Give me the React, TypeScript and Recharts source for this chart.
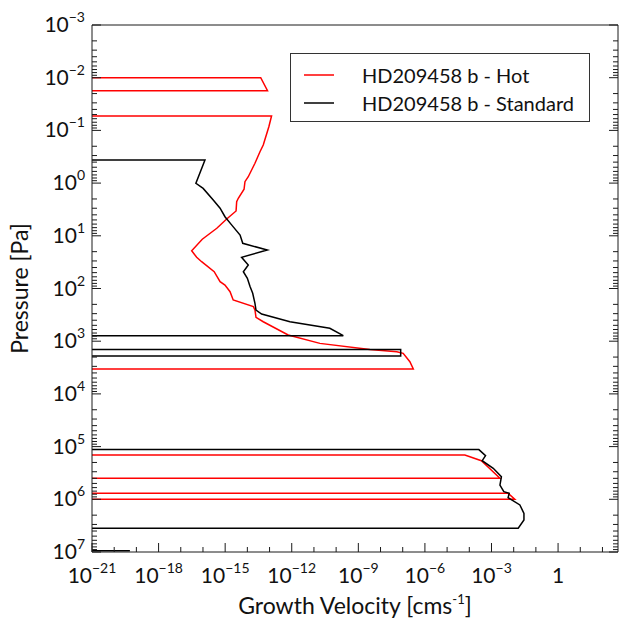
import { LineChart, Line, XAxis, YAxis, Label } from "recharts";

const FONT = "Lato, 'Open Sans', sans-serif";
const AXIS = "#1a1a1a";

// axis ranges (log10)
const X_MIN = 1e-21;
const X_MAX = 10 ** 2.7;
const Y_MIN = 1e-3;
const Y_MAX = 1e7;

// pressure [Pa] and growth velocity [cm/s]; null = negative / off the left of the plot
const hotPressure = [
  6e-3, 1.0e-2, 1.77e-2, 3e-2, 5.33e-2, 8.5e-2, 0.189, 0.254, 0.42, 0.757, 0.94, 1.31,
  1.94, 2.25, 3.38, 4.8, 7.2, 11.6, 19.2, 25.6, 31, 48, 74, 86, 115, 165, 221, 256, 352,
  427, 762, 1.1e3, 1.43e3, 1.58e3, 1.7e3, 2.45e3, 3.37e3, 5e4, 1.44e5, 1.85e5, 4.0e5,
  6e5, 7.7e5, 1.0e6, 3e6,
];
const hotVelocity = [
  null, 4.0e-14, 8.1e-14, null, 1.23e-13, 9.3e-14, 5.2e-14, 3.7e-14, 2.2e-14, 1.1e-14,
  7.8e-15, 7.1e-15, 3.9e-15, 3.3e-15, 3.1e-15, 1.17e-15, 4.2e-16, 9.3e-17, 3.1e-17, 5.2e-17,
  8.7e-17, 3.2e-16, 5.9e-16, 9.8e-16, 1.66e-15, 2.3e-15, 1.86e-14, 2.2e-14, 2.45e-14,
  5.2e-14, 6.9e-13, 1.86e-11, 3.3e-9, 5.4e-8, 1.05e-7, 2.1e-7, 3.0e-7, null, 6.3e-5,
  3.5e-4, 2.4e-3, null, 5.6e-3, 1.12e-2, null,
];

const stdPressure = [
  0.2, 0.365, 1.01, 1.26, 2.09, 3.0, 4.35, 6.2, 9.7, 13.9, 18.6, 25.6, 35.8, 48, 64, 92,
  123, 191, 256, 305, 427, 569, 787, 1.1e3, 1.43e3, 1.91e3, 1e4, 1.14e5, 1.48e5, 1.85e5,
  2.58e5, 3.72e5, 5.36e5, 7.18e5, 7.69e5, 9.3e5, 1.28e6, 1.85e6, 2.47e6, 3.55e6, 6e6,
  9.5e6,
];
const stdVelocity = [
  null, 1.23e-16, 4.8e-17, 1.02e-16, 2.9e-16, 5.9e-16, 9.8e-16, 1.95e-15, 4.7e-15,
  6.2e-15, 7.9e-14, 5.5e-15, 1.1e-14, 6.6e-15, 1.0e-14, 1.32e-14, 1.74e-14, 2.2e-14,
  2.45e-14, 4.4e-14, 8.3e-13, 5.2e-11, 2.1e-10, null, 8.1e-8, 8.1e-8, null, 2.7e-4,
  5.4e-4, 3.8e-4, 1.2e-3, 2.8e-3, 2.4e-3, 3.6e-3, 6.3e-3, 5.6e-3, 1.9e-2, 2.9e-2,
  2.9e-2, 1.6e-2, null, 5.1e-20,
];

const xTickExponents = [-21, -20, -19, -18, -17, -16, -15, -14, -13, -12, -11, -10, -9, -8, -7, -6, -5, -4, -3, -2, -1, 0, 1, 2];
const xLabelExponents = [-21, -18, -15, -12, -9, -6, -3, 0];
const yTickExponents = [-3, -2, -1, 0, 1, 2, 3, 4, 5, 6, 7];
const yMinorMultipliers = [2, 3, 4, 5, 6, 7, 8, 9];

const xTicks = xTickExponents.map((e) => 10 ** e);
const yTicks: number[] = [];
yTickExponents.forEach((e, i) => {
  yTicks.push(10 ** e);
  if (i < yTickExponents.length - 1) yMinorMultipliers.forEach((m) => yTicks.push(m * 10 ** e));
});

// clipped (negative) points in the original plot show up as horizontal runs to the left edge
function buildSeries(p: number[], v: (number | null)[]) {
  const out: { v: number; p: number | null }[] = [];
  for (let i = 0; i < p.length; i++) {
    if (v[i] == null) continue;
    if (i > 0 && v[i - 1] == null) out.push({ v: X_MIN, p: p[i] });
    out.push({ v: v[i] as number, p: p[i] });
    if (i < p.length - 1 && v[i + 1] == null) {
      out.push({ v: X_MIN, p: p[i] });
      out.push({ v: X_MIN, p: null });
    }
  }
  return out;
}

const series = [
  { name: "HD209458 b - Hot", color: "#ff0000", data: buildSeries(hotPressure, hotVelocity) },
  { name: "HD209458 b - Standard", color: "#000000", data: buildSeries(stdPressure, stdVelocity) },
];

const expText = (e: number) => (e < 0 ? "\u2212" + Math.abs(e) : String(e));
const isDecade = (v: number) => {
  const lg = Math.log10(v);
  return Math.abs(lg - Math.round(lg)) < 1e-6;
};

function BottomTick({ x, y, payload }: any) {
  const e = Math.round(Math.log10(payload.value));
  const major = xLabelExponents.includes(e);
  return (
    <g>
      <line x1={x} x2={x} y1={y} y2={y - (major ? 9 : 5)} stroke={AXIS} />
      {major && (
        <text x={x} y={y + 31} textAnchor="middle" fontFamily={FONT} fontSize={21} fill="#111">
          {e === 0 ? "1" : (
            <>
              10<tspan dy={-10} fontSize={14}>{expText(e)}</tspan>
            </>
          )}
        </text>
      )}
    </g>
  );
}

function TopTick({ x, y, payload }: any) {
  const e = Math.round(Math.log10(payload.value));
  const major = xLabelExponents.includes(e);
  return <line x1={x} x2={x} y1={y} y2={y + (major ? 9 : 5)} stroke={AXIS} />;
}

function LeftTick({ x, y, payload }: any) {
  const major = isDecade(payload.value);
  const e = Math.round(Math.log10(payload.value));
  return (
    <g>
      <line x1={x} x2={x + (major ? 9 : 5)} y1={y} y2={y} stroke={AXIS} />
      {major && (
        <text x={x - 7} y={y + 7} textAnchor="end" fontFamily={FONT} fontSize={21} fill="#111">
          10<tspan dy={-10} fontSize={14}>{expText(e)}</tspan>
        </text>
      )}
    </g>
  );
}

function RightTick({ x, y, payload }: any) {
  const major = isDecade(payload.value);
  return <line x1={x} x2={x - (major ? 9 : 5)} y1={y} y2={y} stroke={AXIS} />;
}

export default function App() {
  return (
    <div style={{ position: "absolute", left: 0, top: 0, width: 619, height: 621, background: "#fff" }}>
      <LineChart width={619} height={621} margin={{ top: 0, right: 0, bottom: 0, left: 0 }}>
        <XAxis
          xAxisId="b"
          dataKey="v"
          type="number"
          scale="log"
          domain={[X_MIN, X_MAX]}
          allowDataOverflow
          ticks={xTicks}
          interval={0}
          height={69}
          tickSize={0}
          tickMargin={0}
          tickLine={false}
          tick={BottomTick}
          axisLine={{ stroke: AXIS }}
        >
          <Label
            content={({ viewBox }: any) => (
              <text
                x={viewBox.x + viewBox.width / 2}
                y={viewBox.y + 62}
                textAnchor="middle"
                fontFamily={FONT}
                fontSize={23}
                fill="#111"
              >
                Growth Velocity [cms<tspan dy={-10} fontSize={13}>-1</tspan>
                <tspan dy={10}>]</tspan>
              </text>
            )}
          />
        </XAxis>
        <XAxis
          xAxisId="t"
          orientation="top"
          type="number"
          scale="log"
          domain={[X_MIN, X_MAX]}
          allowDataOverflow
          ticks={xTicks}
          interval={0}
          height={25}
          tickSize={0}
          tickMargin={0}
          tickLine={false}
          tick={TopTick}
          axisLine={{ stroke: AXIS }}
        />
        <YAxis
          yAxisId="l"
          type="number"
          scale="log"
          domain={[Y_MIN, Y_MAX]}
          allowDataOverflow
          reversed
          ticks={yTicks}
          interval={0}
          width={92}
          tickSize={0}
          tickMargin={0}
          tickLine={false}
          tick={LeftTick}
          axisLine={{ stroke: AXIS }}
        >
          <Label
            content={({ viewBox }: any) => {
              const cx = 22;
              const cy = viewBox.y + viewBox.height / 2;
              return (
                <text
                  x={cx}
                  y={cy}
                  transform={`rotate(-90 ${cx} ${cy})`}
                  textAnchor="middle"
                  dominantBaseline="middle"
                  fontFamily={FONT}
                  fontSize={23}
                  fill="#111"
                >
                  Pressure [Pa]
                </text>
              );
            }}
          />
        </YAxis>
        <YAxis
          yAxisId="r"
          orientation="right"
          type="number"
          scale="log"
          domain={[Y_MIN, Y_MAX]}
          allowDataOverflow
          reversed
          ticks={yTicks}
          interval={0}
          width={1}
          tickSize={0}
          tickMargin={0}
          tickLine={false}
          tick={RightTick}
          axisLine={{ stroke: AXIS }}
        />
        {series.map((s) => (
          <Line
            key={s.name}
            xAxisId="b"
            yAxisId="l"
            data={s.data}
            dataKey="p"
            name={s.name}
            type="linear"
            stroke={s.color}
            strokeWidth={1.5}
            dot={false}
            activeDot={false}
            connectNulls={false}
            isAnimationActive={false}
          />
        ))}
      </LineChart>
      <div
        style={{
          position: "absolute",
          left: 290,
          top: 53,
          width: 300,
          height: 69,
          border: "1px solid #333",
          background: "#fff",
          fontFamily: FONT,
          fontSize: 20,
          color: "#111",
          boxSizing: "border-box",
        }}
      >
        {series.map((s, i) => (
          <div
            key={s.name}
            style={{ position: "absolute", left: 0, top: 8 + i * 28, height: 26, display: "flex", alignItems: "center" }}
          >
            <svg width={30} height={4} style={{ marginLeft: 13 }}>
              <line x1={0} x2={30} y1={2} y2={2} stroke={s.color} strokeWidth={1.5} />
            </svg>
            <span style={{ marginLeft: 28, whiteSpace: "nowrap" }}>{s.name}</span>
          </div>
        ))}
      </div>
    </div>
  );
}
